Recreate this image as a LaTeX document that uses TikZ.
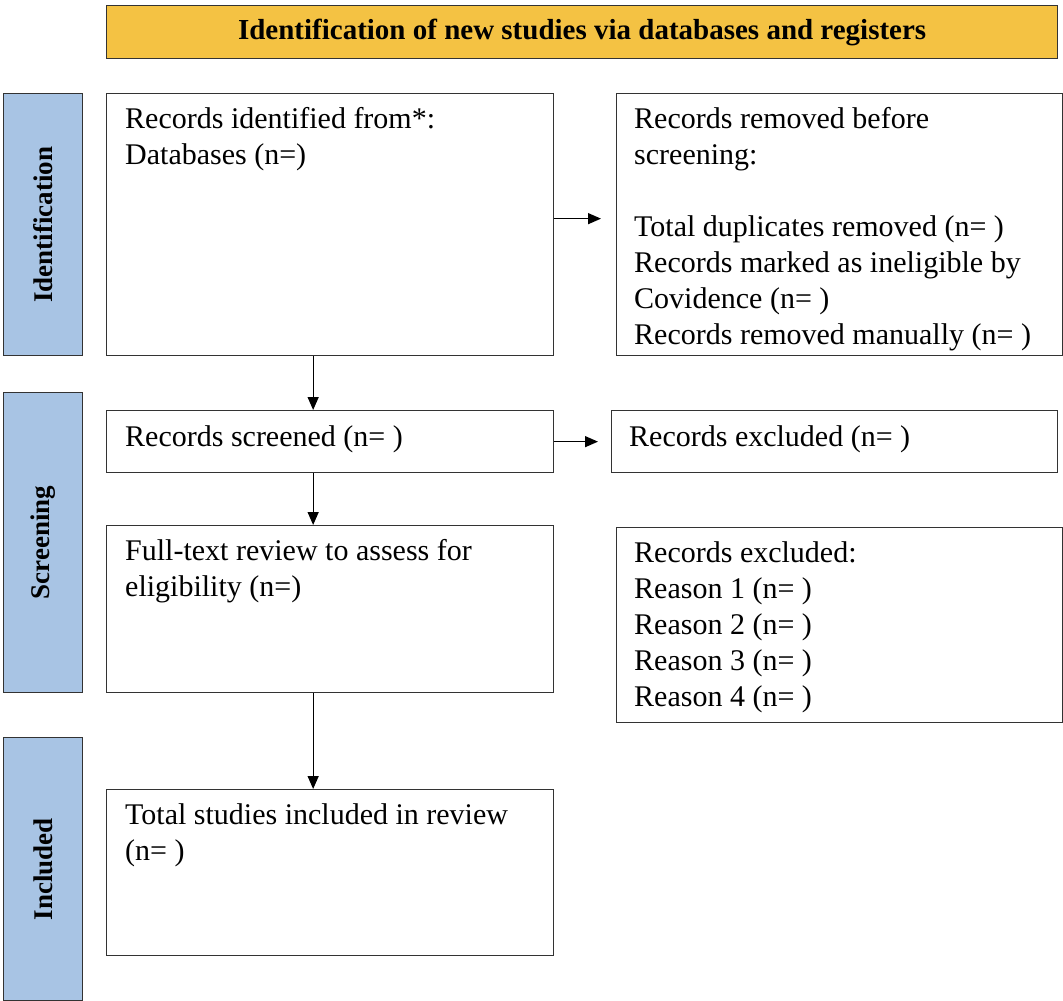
\documentclass[tikz,border=0pt]{standalone}
\usepackage{fontspec}
\setmainfont{Liberation Serif}
\usetikzlibrary{arrows.meta,calc,positioning}
\definecolor{gold}{HTML}{F4C243}
\definecolor{phase}{HTML}{A8C4E4}
\definecolor{edge}{HTML}{333333}
\begin{document}
\begin{tikzpicture}[x=1pt,y=-1pt,
  box/.style={draw=edge,line width=1.3pt,fill=white,rectangle,anchor=north west,inner sep=0pt},
  phasebar/.style={draw=edge,line width=1.3pt,fill=phase,rectangle,anchor=north west,inner sep=0pt},
  txt/.style={anchor=north west,inner sep=0pt,align=left,font=\fontsize{30}{36}\selectfont},
  lbl/.style={rotate=90,font=\fontsize{27}{32}\selectfont\bfseries,inner sep=0pt},
  arr/.style={draw=black,line width=1.3pt,-{Triangle[length=13pt,width=11pt]}}
]
\useasboundingbox (0,0) rectangle (1063,1001);
% title
\node[box,fill=gold,minimum width=951pt,minimum height=53pt] (title) at (106,5) {};
\node[font=\fontsize{29}{32}\selectfont\bfseries,inner sep=0pt] (titletext) at (title.center) {Identification of new studies via databases and registers};
% phase bars
\node[phasebar,minimum width=79pt,minimum height=262pt] (pid) at (3,93) {};
\node[lbl] (pidt) at (pid.center) {Identification};
\node[phasebar,minimum width=79pt,minimum height=300pt] (psc) at (3,392) {};
\node[lbl] (psct) at (psc.center) {Screening};
\node[phasebar,minimum width=79pt,minimum height=263pt] (pin) at (3,737) {};
\node[lbl] (pint) at (pin.center) {Included};
% boxes
\node[box,minimum width=447pt,minimum height=262pt] (b1) at (106,93) {};
\node[txt] (t1) at (125,107) {Records identified from*:\\Databases (n=)};
\node[box,minimum width=446pt,minimum height=262pt] (b2) at (616,93) {};
\node[txt] (t2) at (634,107) {Records removed before\\screening:\\[36pt]Total duplicates removed (n= )\\Records marked as ineligible by\\Covidence (n= )\\Records removed manually (n= )};
\node[box,minimum width=447pt,minimum height=62pt] (b3) at (106,410) {};
\node[txt] (t3) at (125,425) {Records screened (n= )};
\node[box,minimum width=446pt,minimum height=62pt] (b4) at (611,410) {};
\node[txt] (t4) at (629,425) {Records excluded (n= )};
\node[box,minimum width=447pt,minimum height=167pt] (b5) at (106,525) {};
\node[txt] (t5) at (125,539) {Full-text review to assess for\\eligibility (n=)};
\node[box,minimum width=446pt,minimum height=195pt] (b6) at (616,527) {};
\node[txt] (t6) at (634,541) {Records excluded:\\Reason 1 (n= )\\Reason 2 (n= )\\Reason 3 (n= )\\Reason 4 (n= )};
\node[box,minimum width=447pt,minimum height=166pt] (b7) at (106,789) {};
\node[txt] (t7) at (125,803) {Total studies included in review\\(n= )};
% arrows
\draw[arr,shorten >=15pt] ([yshift=6pt]b1.east) -- ([yshift=6pt]b2.west);
\draw[arr,shorten >=13pt] (b3.east) -- (b4.west);
\draw[arr] ([xshift=-17pt]b1.south) -- ([xshift=-17pt]b3.north);
\draw[arr] ([xshift=-17pt]b3.south) -- ([xshift=-17pt]b5.north);
\draw[arr] ([xshift=-17pt]b5.south) -- ([xshift=-17pt]b7.north);
\end{tikzpicture}
\end{document}
